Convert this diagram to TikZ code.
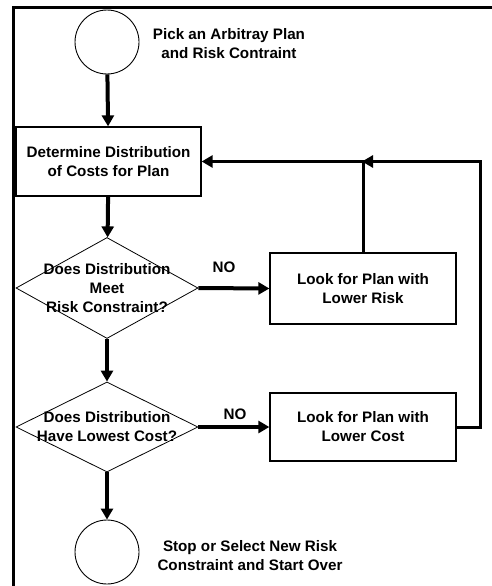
\documentclass[tikz,border=0pt]{standalone}
\usepackage{fontspec}
\setmainfont{Liberation Sans}
\usetikzlibrary{arrows.meta,shapes.geometric}

\begin{document}
\begin{tikzpicture}[x=1pt,y=-1pt,>={Triangle[length=11pt,width=12pt]},line join=miter,
  txt/.style={font=\bfseries\fontsize{15.2}{19}\selectfont,align=center,inner sep=0pt},
  procbox/.style={txt,draw,line width=1.3pt,minimum width=186pt,minimum height=70pt},
  decision/.style={diamond,draw,line width=0.8pt,minimum width=182pt,inner sep=0pt},
  terminal/.style={circle,draw,line width=0.9pt,minimum size=64pt,inner sep=0pt},
  flow/.style={->,line width=4pt},
  back/.style={->,line width=3pt}]
  \useasboundingbox (0,0) rectangle (492,586);
  % frame
  \draw[line width=3pt] (13,586) -- (13,8) -- (492,8);
  % nodes
  \node[terminal] (start) at (107,42) {};
  \node[txt] (starttxt) at (229,44) {Pick an Arbitray Plan\\and Risk Contraint};
  \node[procbox,minimum width=185pt,minimum height=69pt] (dist) at (108.5,161.5) {Determine Distribution\\of Costs for Plan};
  \node[decision,minimum height=101pt,
    label={[txt]center:Does Distribution\\Meet\\Risk Constraint?}] (risk) at (107,288) {};
  \node[procbox,minimum height=71pt] (lrisk) at (363,288.5) {Look for Plan with\\Lower Risk};
  \node[decision,minimum height=90pt,
    label={[txt]center:Does Distribution\\Have Lowest Cost?}] (cost) at (107,427) {};
  \node[procbox,minimum height=68pt] (lcost) at (363,427) {Look for Plan with\\Lower Cost};
  \node[terminal] (stop) at (107,552) {};
  \node[txt] (stoptxt) at (250,556) {Stop or Select New Risk\\Constraint and Start Over};
  \node[txt] (no1) at (224,267) {NO};
  \node[txt] (no2) at (235,414) {NO};
  % main flow
  \draw[flow] (start) -- (dist);
  \draw[flow] (dist) -- (risk);
  \draw[flow] (risk) -- (cost);
  \draw[flow] (cost) -- (stop);
  \draw[flow] (risk.east) -- (lrisk.west);
  \draw[flow] (cost.east) -- (lcost.west);
  % feedback loops
  \coordinate (jn) at (lrisk.north |- dist.east);
  \coordinate (rc) at (480,427);
  \draw[back] (lrisk.north) -- (jn) -- (dist.east);
  \draw[back,shorten >=-1pt] (lcost.east) -- (rc) |- (jn);
\end{tikzpicture}
\end{document}
